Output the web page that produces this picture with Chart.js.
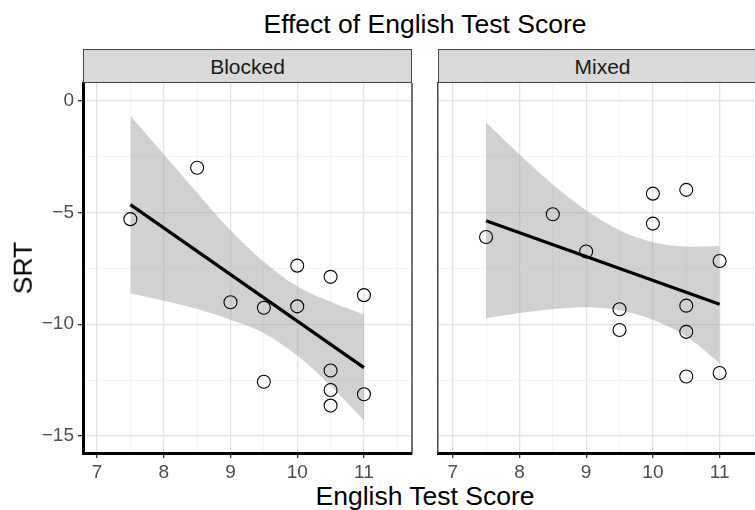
<!DOCTYPE html>
<html><head><meta charset="utf-8">
<script src="https://cdn.jsdelivr.net/npm/chart.js@4.4.1/dist/chart.umd.min.js"></script>
<style>
html,body{margin:0;padding:0;background:#fff;}
body{width:755px;height:510px;overflow:hidden;position:relative;font-family:"Liberation Sans",Arial,sans-serif;}
canvas{position:absolute;}
.txt{position:absolute;white-space:nowrap;line-height:1;color:#000;font-size:26.5px;}
.strip{position:absolute;top:49px;height:32px;background:#d9d9d9;border:1px solid #444;box-sizing:content-box;font-size:21px;color:#1a1a1a;text-align:center;line-height:33px;}
</style></head><body>
<canvas id="cb" width="416" height="400" style="left:0;top:80px;"></canvas>
<canvas id="cm" width="325" height="400" style="left:430px;top:80px;"></canvas>
<div class="strip" style="left:83px;width:327px;">Blocked</div>
<div class="strip" style="left:438px;width:305px;border-right:none;padding-left:11px;">Mixed</div>
<div class="txt" style="left:425px;top:11px;transform:translateX(-50%);">Effect of English Test Score</div>
<div class="txt" style="left:425px;top:483px;transform:translateX(-50%);">English Test Score</div>
<div class="txt" style="left:23px;top:268px;transform:translate(-50%,-50%) rotate(-90deg);">SRT</div>
<script>
// ---- data ----
const panels = ["Blocked", "Mixed"];
const xTickValues = [7, 8, 9, 10, 11];
const yTickValues = [0, -5, -10, -15];

const blockedScore = [7.5, 8.5, 9, 9.5, 9.5, 10, 10, 10.5, 10.5, 10.5, 10.5, 11, 11];
const blockedSRT   = [-5.30, -3.0, -9.02, -9.26, -12.57, -7.38, -9.2, -7.88, -12.07, -12.94, -13.64, -8.70, -13.13];
const mixedScore   = [7.5, 8.5, 9, 9.5, 9.5, 10, 10, 10.5, 10.5, 10.5, 10.5, 11, 11];
const mixedSRT     = [-6.10, -5.08, -6.75, -9.33, -10.26, -4.16, -5.50, -3.99, -9.17, -10.34, -12.34, -7.17, -12.18];

const fitScore   = [7.5, 11];
const blockedFit = [-4.65, -11.94];
const mixedFit   = [-5.37, -9.11];

const bandScore    = [7.5, 8, 8.5, 9, 9.5, 10, 10.5, 11];
const blockedUpper = [-0.66, -2.4, -4.12, -5.8, -7.2, -8.3, -9.0, -9.56];
const blockedLower = [-8.63, -8.95, -9.32, -9.8, -10.4, -11.4, -12.75, -14.3];
const mixedUpper   = [-0.98, -2.4, -3.75, -4.9, -5.8, -6.33, -6.52, -6.5];
const mixedLower   = [-9.73, -9.5, -9.33, -9.24, -9.38, -9.8, -10.55, -11.74];

// ---- chart building ----
Chart.defaults.font.family = '"Liberation Sans", Arial, sans-serif';
const pts = (xs, ys) => xs.map((x, i) => ({x: x, y: ys[i]}));
const isMajor = (v, list) => list.some(t => Math.abs(t - v) < 1e-6);
const fmtY = v => v === 0 ? '0' : (v < 0 ? '\u2212' + Math.abs(v) : String(v));

const panelBorder = {
  id: 'panelBorder',
  afterDatasetsDraw(chart, args, opts) {
    if (!opts.right) return;
    const {ctx, chartArea: a} = chart;
    ctx.save();
    ctx.strokeStyle = '#444';
    ctx.lineWidth = 1.5;
    ctx.beginPath();
    ctx.moveTo(a.right, a.top);
    ctx.lineTo(a.right, a.bottom);
    ctx.stroke();
    ctx.restore();
  }
};

function makePanel(id, xs, ys, fit, upper, lower, xMin, xMax, first) {
  const gridColor = (list) => (c) => isMajor(c.tick.value, list) ? '#e3e3e3' : '#f1f1f1';
  const gridWidth = (list) => (c) => isMajor(c.tick.value, list) ? 1.3 : 0.8;
  const noPad = s => { s.paddingTop = 0; s.paddingBottom = 0; s.paddingLeft = 0; s.paddingRight = 0; };
  return new Chart(document.getElementById(id), {
    type: 'scatter',
    data: {
      datasets: [
        {label: 'points', data: pts(xs, ys), order: 0, pointRadius: 6.5, pointHoverRadius: 6.5,
         borderColor: '#000', backgroundColor: 'transparent', borderWidth: 1.1, pointBorderWidth: 1.1},
        {type: 'line', label: 'fit', data: pts(fitScore, fit), order: 1, borderColor: '#000',
         borderWidth: 3.2, pointRadius: 0, tension: 0, fill: false},
        {type: 'line', label: 'upper', data: pts(bandScore, upper), order: 2, borderColor: 'transparent',
         borderWidth: 0, pointRadius: 0, tension: 0.35, fill: '+1', backgroundColor: 'rgba(153,153,153,0.45)'},
        {type: 'line', label: 'lower', data: pts(bandScore, lower), order: 3, borderColor: 'transparent',
         borderWidth: 0, pointRadius: 0, tension: 0.35, fill: false}
      ]
    },
    options: {
      responsive: false, animation: false, devicePixelRatio: 1, events: [],
      layout: {autoPadding: false, padding: {top: 3, right: first ? 4 : 0, bottom: 0, left: 0}},
      plugins: {legend: {display: false}, tooltip: {enabled: false}, title: {display: false},
                panelBorder: {right: first}},
      scales: {
        x: {
          type: 'linear', min: xMin, max: xMax,
          afterFit: s => { s.height = 27; noPad(s); },
          border: {display: true, color: '#000', width: 3},
          grid: {color: gridColor(xTickValues), lineWidth: gridWidth(xTickValues), drawTicks: true, tickLength: 5,
                 tickColor: c => isMajor(c.tick.value, xTickValues) ? '#333' : 'rgba(0,0,0,0)', tickWidth: 1.3},
          ticks: {stepSize: 0.5, includeBounds: false, autoSkip: false, maxRotation: 0, minRotation: 0,
                  padding: 3, color: '#4d4d4d', font: {size: 19},
                  callback: v => isMajor(v, xTickValues) ? String(Math.round(v)) : ''}
        },
        y: {
          type: 'linear', min: -15.76, max: 0.79,
          afterFit: s => { s.width = first ? 83 : 8; noPad(s); },
          border: {display: true, color: first ? '#000' : '#444', width: first ? 3 : 1.5},
          grid: {color: gridColor(yTickValues), lineWidth: gridWidth(yTickValues), drawTicks: first, tickLength: 5,
                 tickColor: c => isMajor(c.tick.value, yTickValues) ? '#333' : 'rgba(0,0,0,0)', tickWidth: 1.3},
          ticks: {display: first, stepSize: 2.5, includeBounds: false, autoSkip: false, padding: 4,
                  color: '#4d4d4d', font: {size: 19},
                  callback: v => isMajor(v, yTickValues) ? fmtY(Math.round(v)) : ''}
        }
      }
    },
    plugins: [panelBorder]
  });
}

makePanel('cb', blockedScore, blockedSRT, blockedFit, blockedUpper, blockedLower, 6.79, 11.72, true);
makePanel('cm', mixedScore, mixedSRT, mixedFit, mixedUpper, mixedLower, 6.78, 11.53, false);
</script>
</body></html>
